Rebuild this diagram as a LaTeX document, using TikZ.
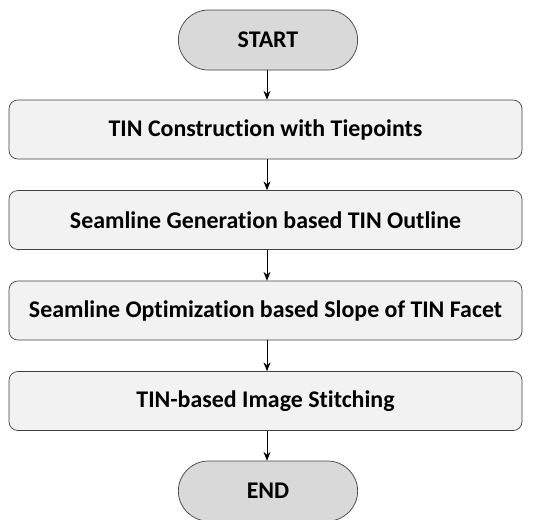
\documentclass[tikz,border=0pt]{standalone}
\usepackage{fontspec}
\setmainfont[Ligatures=NoCommon]{Carlito}
\definecolor{stepfill}{RGB}{242,242,242}
\definecolor{termfill}{RGB}{217,217,217}
\definecolor{edgegray}{RGB}{64,64,64}
\usetikzlibrary{arrows.meta,positioning,shapes.misc}

\begin{document}
\begin{tikzpicture}[
  flowstep/.style={draw=edgegray,fill=stepfill,rounded corners=5pt,minimum width=10.26cm,
    minimum height=1.18cm,align=center,font=\fontsize{13.6}{15}\selectfont\bfseries,inner sep=4pt},
  flowterm/.style={draw=edgegray,fill=termfill,rounded rectangle,minimum width=3.82cm,
    minimum height=1.2cm,font=\fontsize{13.6}{15}\selectfont\bfseries},
  flowarr/.style={-{Stealth[length=5pt,width=4pt]},black,thin}
]
  \useasboundingbox (0,0) rectangle (10.68,-10.38);

  % Terminal: start
  \node[flowterm] (start) at (5.36,-0.8) {START};

  % Processing steps
  \node[flowstep] (tin) at (5.31,-2.59) {TIN Construction with Tiepoints};
  \node[flowstep] (seamgen) at (5.31,-4.4) {Seamline Generation based TIN Outline};
  \node[flowstep] (seamopt) at (5.31,-6.21) {Seamline Optimization based Slope of TIN Facet};
  \node[flowstep] (stitch) at (5.31,-8.02) {TIN-based Image Stitching};

  % Terminal: end
  \node[flowterm] (end) at (5.36,-9.82) {END};

  % Arrows between steps
  \draw[flowarr] (start.south -| 5.34,0) -- (tin.north -| 5.34,0);
  \draw[flowarr] (tin.south -| 5.34,0) -- (seamgen.north -| 5.34,0);
  \draw[flowarr] (seamgen.south -| 5.34,0) -- (seamopt.north -| 5.34,0);
  \draw[flowarr] (seamopt.south -| 5.34,0) -- (stitch.north -| 5.34,0);
  \draw[flowarr] (stitch.south -| 5.34,0) -- (end.north -| 5.34,0);
\end{tikzpicture}
\end{document}
